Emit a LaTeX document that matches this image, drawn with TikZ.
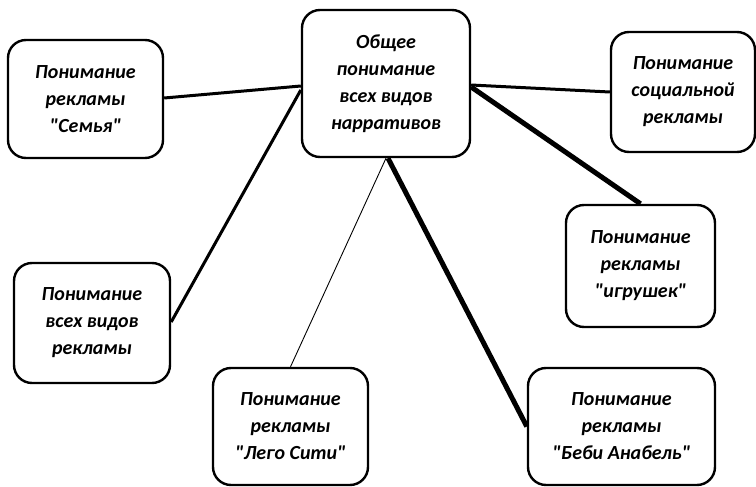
\documentclass[tikz,border=0pt]{standalone}
\usepackage{fontspec}
\setmainfont{Carlito}[Ligatures=TeXOff]
\begin{document}
\begin{tikzpicture}[x=1pt,y=-1pt,
  box/.style={draw,line width=2.4pt,rounded corners=18pt,inner sep=0pt,
    font=\fontsize{20}{27}\selectfont\bfseries\itshape,align=center},
  link/.style={line width=#1}]
\useasboundingbox (0,0) rectangle (756,487);
% boxes given by their centres and sizes
\node[box,minimum width=155pt,minimum height=118pt] (semya) at (85.5,99) {Понимание\\рекламы\\"Семья"};
\node[box,minimum width=168pt,minimum height=147pt] (main) at (386,83.5) {Общее\\понимание\\всех видов\\нарративов};
\node[box,minimum width=144pt,minimum height=120pt] (social) at (683,92) {Понимание\\социальной\\рекламы};
\node[box,minimum width=149pt,minimum height=122pt] (toys) at (640.5,266) {Понимание\\рекламы\\"игрушек"};
\node[box,minimum width=156pt,minimum height=120pt] (all) at (92,323) {Понимание\\всех видов\\рекламы};
\node[box,minimum width=155pt,minimum height=117pt] (lego) at (290.5,426.5) {Понимание\\рекламы\\"Лего Сити"};
\node[box,minimum width=187pt,minimum height=117pt] (baby) at (621.5,426.5) {Понимание\\рекламы\\"Беби Анабель"};
% connectors
\draw[link=3pt] ([yshift=1pt]semya.east) -- ([yshift=-2.5pt]main.west);
\draw[link=3pt] ([yshift=1pt]all.east) -- ([yshift=-6.5pt]main.west);
\draw[link=0.9pt] (lego.north) -- (main.south);
\draw[link=5pt] ([xshift=2pt]main.south) -- (baby.west);
\draw[link=3pt] ([yshift=-1.5pt]main.east) -- (social.west);
\draw[link=5pt] ([yshift=-3.5pt]main.east) -- (toys.north);
\end{tikzpicture}
\end{document}
